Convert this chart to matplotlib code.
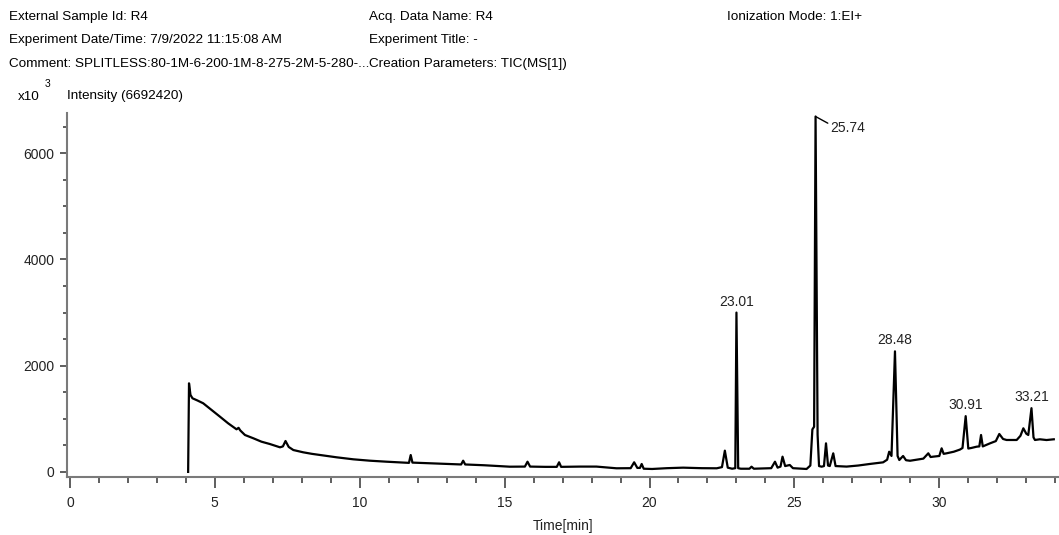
import numpy as np
import matplotlib
matplotlib.use("Agg")
from matplotlib import pyplot as plt
from matplotlib import font_manager
from matplotlib.ticker import MultipleLocator

# Chromatogram values (time in min, intensity in x10^3)
time_min = [
    4.08, 4.11, 4.16, 4.23, 4.40, 4.60, 4.89, 5.18, 5.46, 5.75, 5.82, 5.88,
    6.04, 6.33, 6.61, 6.90, 7.25, 7.35, 7.44, 7.55, 7.71, 8.05, 8.35, 8.63, 9.20,
    9.78, 10.35, 10.93, 11.62, 11.70, 11.76, 11.82, 12.42, 13.00, 13.50, 13.57, 13.64,
    14.30, 15.18, 15.70, 15.79, 15.88, 16.40, 16.80, 16.88, 16.95, 17.60, 18.17, 18.86,
    19.35, 19.47, 19.58, 19.67, 19.73, 19.80, 20.09, 20.60, 21.16, 21.80, 22.32, 22.50,
    22.60, 22.70, 22.85, 22.96, 23.00, 23.06, 23.15, 23.45, 23.52, 23.60, 24.20, 24.33,
    24.42, 24.52, 24.59, 24.68, 24.84, 24.95, 25.42, 25.55, 25.62, 25.68, 25.73, 25.80,
    25.85, 25.94, 26.02, 26.09, 26.16, 26.22, 26.34, 26.42, 26.80, 27.20, 27.61, 28.06,
    28.20, 28.27, 28.35, 28.47, 28.56, 28.62, 28.75, 28.85, 28.99, 29.22, 29.45, 29.62,
    29.70, 29.79, 30.00, 30.08, 30.15, 30.25, 30.50, 30.71, 30.80, 30.91, 31.00, 31.10,
    31.29, 31.38, 31.44, 31.50, 31.75, 31.95, 32.07, 32.20, 32.32, 32.67, 32.80, 32.90,
    33.00, 33.07, 33.18, 33.25, 33.30, 33.47, 33.70, 33.95,
]
intensity_k = [
    0, 1668, 1450, 1386, 1345, 1292, 1166, 1039, 915, 802, 830, 780,
    695, 633, 569, 525, 463, 480, 582, 470, 412, 369, 340, 318, 275,
    237, 211, 192, 173, 170, 318, 175, 162, 150, 140, 211, 140,
    125, 98, 100, 192, 100, 95, 95, 181, 95, 100, 100, 68,
    70, 181, 75, 75, 149, 60, 55, 70, 80, 70, 68, 90,
    400, 80, 60, 70, 3000, 70, 60, 60, 98, 60, 70, 192,
    80, 100, 287, 110, 130, 70, 55, 120, 800, 851, 6692, 700,
    110, 98, 110, 538, 120, 110, 350, 110, 100, 120, 150, 180,
    230, 380, 300, 2270, 300, 224, 300, 220, 210, 230, 250, 350,
    280, 287, 300, 444, 340, 350, 380, 420, 450, 1050, 440, 450,
    475, 480, 695, 480, 538, 580, 714, 620, 601, 601, 680, 821,
    720, 695, 1200, 650, 601, 614, 600, 614,
]

peak_labels = ["23.01", "25.74", "28.48", "30.91", "33.21"]

header_left = [
    "External Sample Id: R4",
    "Experiment Date/Time: 7/9/2022 11:15:08 AM",
    "Comment: SPLITLESS:80-1M-6-200-1M-8-275-2M-5-280-...",
]
header_mid = [
    "Acq. Data Name: R4",
    "Experiment Title: -",
    "Creation Parameters: TIC(MS[1])",
]
header_right = ["Ionization Mode: 1:EI+"]

# narrow Arial-like font if present
names = {f.name for f in font_manager.fontManager.ttflist}
fam = "Liberation Sans Narrow" if "Liberation Sans Narrow" in names else "Liberation Sans"
plt.rcParams["font.family"] = [fam, "DejaVu Sans"]

W, H = 1059, 535
fig = plt.figure(figsize=(W / 100, H / 100), dpi=100)
ax = fig.add_axes([67 / W, 1 - 477 / H, (W - 67) / W, (477 - 113) / H])

t = np.array(time_min)
y = np.array(intensity_k)
ax.plot(t, y, color="black", lw=1.6, solid_joinstyle="round")

ax.set_xlim(-0.1, 34.13)
ax.set_ylim(-96, 6758)

ax.xaxis.set_major_locator(MultipleLocator(5))
ax.xaxis.set_minor_locator(MultipleLocator(1))
ax.yaxis.set_major_locator(MultipleLocator(2000))
ax.yaxis.set_minor_locator(MultipleLocator(500))

for s in ["top", "right"]:
    ax.spines[s].set_visible(False)
for s in ["left", "bottom"]:
    ax.spines[s].set_color("#7a7a7a")
    ax.spines[s].set_linewidth(1.5)

ax.tick_params(axis="x", which="major", length=8, width=1.1, color="#333333",
               pad=6, labelsize=10, labelcolor="#222222")
ax.tick_params(axis="x", which="minor", length=4.5, width=1.1, color="#333333")
ax.tick_params(axis="y", which="major", length=5, width=1.1, color="#333333",
               pad=4, labelsize=10, labelcolor="#222222")
ax.tick_params(axis="y", which="minor", length=3, width=1.1, color="#333333")

ax.set_xlabel("Time[min]", fontsize=10, labelpad=6, color="#222222")

# peak labels, placed above the highest point near each retention time
for lab in peak_labels:
    rt = float(lab)
    near = np.abs(t - rt) < 0.12
    i = np.argmax(np.where(near, y, -1))
    if lab == "25.74":
        ax.annotate(lab, xy=(t[i], y[i]), xytext=(15, -11), textcoords="offset pixels",
                    ha="left", va="center", fontsize=10, color="#222222",
                    arrowprops=dict(arrowstyle="-", color="black", lw=1.0,
                                    shrinkA=0, shrinkB=0, relpos=(0, 0.7)))
    else:
        ax.annotate(lab, xy=(t[i], y[i]), xytext=(0, 4), textcoords="offset pixels",
                    ha="center", va="bottom", fontsize=10, color="#222222")

# header block
hs = 9.7
for k, line in enumerate(header_left):
    fig.text(9 / W, 1 - (17 + 23.5 * k) / H, line, fontsize=hs, va="center", ha="left")
for k, line in enumerate(header_mid):
    fig.text(369 / W, 1 - (17 + 23.5 * k) / H, line, fontsize=hs, va="center", ha="left")
for k, line in enumerate(header_right):
    fig.text(727 / W, 1 - (17 + 23.5 * k) / H, line, fontsize=hs, va="center", ha="left")

fig.text(18 / W, 1 - 97 / H, "x10", fontsize=hs, va="center", ha="left")
fig.text(45 / W, 1 - 84 / H, "3", fontsize=7.5, va="center", ha="left")
fig.text(67 / W, 1 - 96 / H, "Intensity (6692420)", fontsize=hs, va="center", ha="left")

fig.savefig("out.png", dpi=100)
